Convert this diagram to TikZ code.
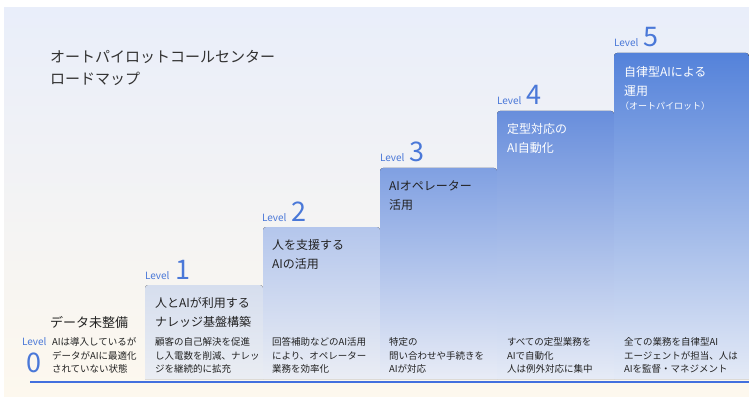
\documentclass[tikz,border=0pt]{standalone}
\usepackage{fontspec}
\setmainfont{Noto Sans CJK JP}
\definecolor{bgtop}{RGB}{233,238,250}
\definecolor{bgbot}{RGB}{253,248,238}
\definecolor{lvblue}{RGB}{74,120,216}
\definecolor{lineblue}{RGB}{66,112,222}
\definecolor{txtdark}{RGB}{34,34,34}
\definecolor{hdr}{RGB}{50,50,50}
\definecolor{aT}{RGB}{214,222,238}\definecolor{aB}{RGB}{234,237,243}
\definecolor{bT}{RGB}{180,198,236}\definecolor{bB}{RGB}{234,237,244}
\definecolor{cT}{RGB}{128,160,226}\definecolor{cB}{RGB}{232,236,246}
\definecolor{dT}{RGB}{104,142,220}\definecolor{dB}{RGB}{230,235,246}
\definecolor{eT}{RGB}{84,130,218}\definecolor{eB}{RGB}{228,234,246}
\tikzset{
  txt/.style={anchor=base west,inner sep=0pt,outer sep=0pt},
  lvword/.style={txt,text=lvblue,font=\fontsize{10}{12}\selectfont},
  lvnum/.style={txt,text=lvblue,font=\fontsize{27}{30}\selectfont},
  ttl/.style={txt,text=txtdark,font=\fontsize{12}{14}\selectfont},
  ttlw/.style={txt,text=white,font=\fontsize{12}{14}\selectfont},
  dsc/.style={txt,text=txtdark,font=\fontsize{9.5}{11}\selectfont},
  hd/.style={txt,text=hdr,font=\fontsize{15}{18}\selectfont},
}
\begin{document}
\begin{tikzpicture}[x=1pt,y=-1pt]
\useasboundingbox (0,0) rectangle (749,406);
% background
\fill[top color=bgtop,bottom color=bgbot] (4,8) rectangle (749,396);
% steps
\fill[top color=aT,bottom color=aB] (145,379) {[rounded corners=3pt] -- (145,285) -- (263,285)} -- (263,379) -- cycle;
\fill[top color=bT,bottom color=bB] (263,379) {[rounded corners=3pt] -- (263,227) -- (380,227)} -- (380,379) -- cycle;
\fill[top color=cT,bottom color=cB] (380,379) {[rounded corners=3pt] -- (380,168) -- (497,168)} -- (497,379) -- cycle;
\fill[top color=dT,bottom color=dB] (497,379) {[rounded corners=3pt] -- (497,111) -- (614,111)} -- (614,379) -- cycle;
\fill[top color=eT,bottom color=eB] (614,379) {[rounded corners=3pt] -- (614,53) -- (749,53)} -- (749,379) -- cycle;
% base line
\coordinate (lineL) at (30,382);
\coordinate (lineR) at (749,382);
\draw[lineblue,line width=1.2pt] (lineL) -- (lineR);
% header
\node[hd] (h1) at (50,63) {オートパイロットコールセンター};
\node[hd] (h2) at (50,85) {ロードマップ};
% level 0
\node[lvword] (l0w) at (22,345) {Level};
\node[lvnum] (l0n) at (26,372) {0};
\node[txt,text=txtdark,font=\fontsize{13}{15}\selectfont] (t0) at (50,327) {データ未整備};
\node[dsc] (d0a) at (52,345) {AIは導入しているが};
\node[dsc] (d0b) at (52,359) {データがAIに最適化};
\node[dsc] (d0c) at (52,372.5) {されていない状態};
% level 1
\node[lvword] (l1w) at (145,279) {Level};
\node[lvnum] (l1n) at (175,279) {1};
\node[ttl] (t1a) at (155,307.5) {人とAIが利用する};
\node[ttl] (t1b) at (155,326) {ナレッジ基盤構築};
\node[dsc] (d1a) at (155,345) {顧客の自己解決を促進};
\node[dsc] (d1b) at (155,359) {し入電数を削減、ナレッ};
\node[dsc] (d1c) at (155,372.5) {ジを継続的に拡充};
% level 2
\node[lvword] (l2w) at (262,221) {Level};
\node[lvnum] (l2n) at (291,221) {2};
\node[ttl] (t2a) at (272,249) {人を支援する};
\node[ttl] (t2b) at (272,268) {AIの活用};
\node[dsc] (d2a) at (272,345) {回答補助などのAI活用};
\node[dsc] (d2b) at (272,359) {により、オペレーター};
\node[dsc] (d2c) at (272,372.5) {業務を効率化};
% level 3
\node[lvword] (l3w) at (380,162) {Level};
\node[lvnum] (l3n) at (409,162) {3};
\node[ttl] (t3a) at (389,190.5) {AIオペレーター};
\node[ttl] (t3b) at (389,209.5) {活用};
\node[dsc] (d3a) at (389,345) {特定の};
\node[dsc] (d3b) at (389,359) {問い合わせや手続きを};
\node[dsc] (d3c) at (389,372.5) {AIが対応};
% level 4
\node[lvword] (l4w) at (497,105) {Level};
\node[lvnum] (l4n) at (526,105) {4};
\node[ttlw] (t4a) at (507,134) {定型対応の};
\node[ttlw] (t4b) at (507,153) {AI自動化};
\node[dsc] (d4a) at (507,345) {すべての定型業務を};
\node[dsc] (d4b) at (507,359) {AIで自動化};
\node[dsc] (d4c) at (507,372.5) {人は例外対応に集中};
% level 5
\node[lvword] (l5w) at (614,47) {Level};
\node[lvnum] (l5n) at (643,47) {5};
\node[ttlw] (t5a) at (624,77) {自律型AIによる};
\node[ttlw] (t5b) at (624,96) {運用};
\node[txt,text=white,font=\fontsize{9}{11}\selectfont] (t5c) at (620,110) {（オートパイロット）};
\node[dsc] (d5a) at (624,345) {全ての業務を自律型AI};
\node[dsc] (d5b) at (624,359) {エージェントが担当、人は};
\node[dsc] (d5c) at (624,372.5) {AIを監督・マネジメント};
\end{tikzpicture}
\end{document}
